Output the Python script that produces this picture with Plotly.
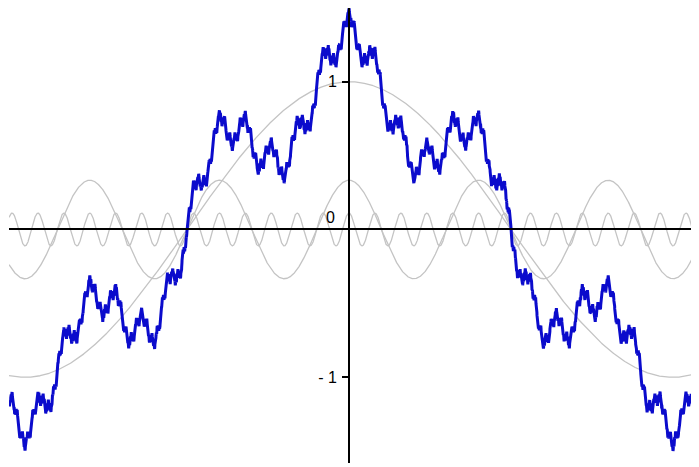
import numpy as np
import plotly.graph_objects as go

# Function-plot parameters (Weierstrass-type sum)
amp_ratio = 1 / 3          # amplitude ratio between successive terms
freq_ratio = 5             # frequency ratio between successive terms
n_terms = 7                # terms summed for the blue curve
gray_terms = [0, 1, 2]     # individual terms drawn in gray
x_domain = [-1.0494, 1.0802]
y_domain = [-1.5798, 1.4986]
y_tick_vals = [-1, 1]
y_tick_text = ["- 1", "1"]
origin_label = "0"

x = np.linspace(x_domain[0], x_domain[1], 9000)


def term(n):
    return amp_ratio ** n * np.cos(freq_ratio ** n * np.pi * x)


fig = go.Figure()
for n in gray_terms:
    fig.add_trace(go.Scatter(x=x, y=term(n), mode="lines",
                             line=dict(color="#c4c4c4", width=1.3),
                             hoverinfo="skip", showlegend=False))

total = sum(term(n) for n in range(n_terms))
fig.add_trace(go.Scatter(x=x, y=total, mode="lines",
                         line=dict(color="#0b0bcc", width=3),
                         hoverinfo="skip", showlegend=False))

xpos = (0 - x_domain[0]) / (x_domain[1] - x_domain[0])
ypos = (0 - y_domain[0]) / (y_domain[1] - y_domain[0])

fig.update_layout(
    width=691, height=459,
    margin=dict(l=1, r=0, t=0, b=4),
    paper_bgcolor="white", plot_bgcolor="white",
    font=dict(family="Liberation Sans, Arial, sans-serif", size=16, color="black"),
    xaxis=dict(range=x_domain, showgrid=False, zeroline=False,
               showline=True, linecolor="black", linewidth=2,
               anchor="free", position=ypos, showticklabels=False,
               ticks="", fixedrange=True),
    yaxis=dict(range=y_domain, showgrid=False, zeroline=False,
               showline=True, linecolor="black", linewidth=2,
               anchor="free", position=xpos,
               tickmode="array", tickvals=y_tick_vals, ticktext=y_tick_text,
               ticks="outside", ticklen=6, tickwidth=1.5, tickcolor="black",
               ticklabelstandoff=2, fixedrange=True),
    annotations=[dict(x=0, y=0, xref="x", yref="y", text=origin_label,
                      showarrow=False, xanchor="center", yanchor="middle",
                      xshift=-19, yshift=12,
                      font=dict(size=16, color="black"))],
)

fig.write_html("out.html")
